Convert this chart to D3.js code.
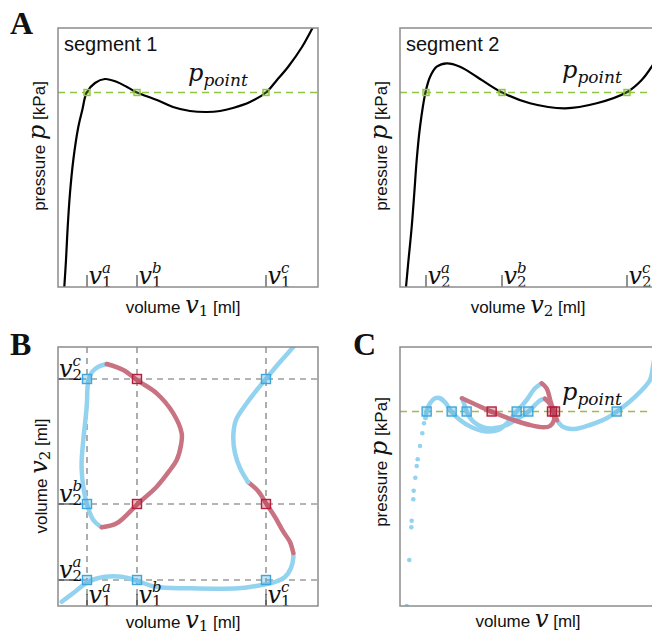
<!DOCTYPE html>
<html>
<head>
<meta charset="utf-8">
<title>segments</title>
<script src="https://d3js.org/d3.v7.min.js"></script>
<style>
  body { margin: 0; background: #fff; }
  text { font-family: "Liberation Sans", Arial, sans-serif; fill: #111; }
  .math { font-family: "DejaVu Serif", serif; font-style: italic; }
  .rm { font-family: "DejaVu Serif", serif; font-style: normal; }
  .lbl { font-family: "Liberation Serif", serif; font-weight: bold; }
</style>
</head>
<body>
<div id="fig"></div>
<script>
// values (volume / pressure in arbitrary units)
var pPoint = 194.5;
var v1Ticks = [{n: "a", v: 29}, {n: "b", v: 79}, {n: "c", v: 208}];
var v2Ticks = [{n: "a", v: 26}, {n: "b", v: 102}, {n: "c", v: 227}];

// A: pressure-volume curves of the two segments
var seg1 = [[6.3,0],[8,27],[9.7,60],[12,94],[15.3,127],[20.3,160],[24.3,177],[28.7,194.5],[37,204],[47,208],[59,205],[69,200],[79,194.5],[99,187],[115,180],[132,176],[149,175],[162,176],[175,179],[192,185],[208,194.5],[219,207],[230,220],[244,240],[255,260]];
var seg2 = [[6,0],[8.5,27],[11.7,60],[14.3,94],[16.7,127],[20,160],[25.5,194.7],[30,210],[36.7,220.3],[46.7,223.7],[60,220.3],[76.7,210.3],[101.7,194.7],[130,183.7],[165,178.7],[196.7,183.7],[226.7,194.7],[241.7,207],[251.7,220.3],[260,235]];

// B: equilibrium set in (v1, v2)
var bMainBlue1 = [[3.7,4.3],[17,14.3],[28.7,23.3],[37,27],[47,29.3],[63.7,29.3],[78.7,25.3],[97,19.3],[130.3,17.7],[180.3,17.7],[204,21],[217,24],[227,29],[233,38],[235.3,48],[235.3,53]];
var bMainRed = [[235.3,53],[232,64],[225.3,74.3],[217,89],[208.7,101.7],[200,115],[190,124]];
var bMainBlue2 = [[190,124],[182,138],[177,152.7],[175.3,169.3],[178,186],[188.7,202.7],[198,215],[207,226],[222,244],[237,261],[240,265]];
var bLoopBlue = [[43.7,78.7],[35.3,86],[28.7,102.7],[25.3,119.3],[23.7,136],[23.7,146],[25.3,166],[28.7,199.3],[30.3,225],[34,234],[40.3,239.3],[48.7,242]];
var bLoopRed = [[48.7,242],[65.3,236],[80.3,225],[98.7,212.7],[115.3,192.7],[123.7,172.7],[123,161],[118.7,146],[112,136],[98.7,119.3],[80.3,102.7],[58.7,82.7],[43.7,78.7]];
var bSquares = [["a","c",1],["a","b",1],["a","a",1],["b","a",1],["c","a",1],["c","c",1],["b","c",0],["b","b",0],["c","b",0]];

// C: total volume v = v1 + v2 against pressure
var cDots = [[13.4,0],[18.6,46],[22.6,78.7],[23.4,85.3],[26.6,106.7],[27.4,115.3],[30.6,128.3],[33.4,140],[35.4,146.7],[40,160],[44.6,172.7],[48,182.7],[51,188]];
var cMainBlue1 = [[51,188],[53.3,194.3],[60,202.7],[70,207.7],[78.7,208],[90,203.7],[103.3,194.3],[120,186],[143.3,178.7],[169.3,174.7],[196.7,176],[216.7,184.3],[233.3,194.3],[253.3,206],[270,217.7],[283.3,222.7]];
var cMainRed = [[283.3,222.7],[293.3,217.7],[301.3,204.3],[308,194.3],[314,185.7]];
var cMainBlue2 = [[314,185.7],[323.3,180],[333.3,177.7],[353.3,177.3],[380,181],[413.3,187.7],[433.3,194.3],[466.7,207.7],[500,226],[506,240],[512,256]];
var cLoopBlue = [[124,207.7],[128,202.7],[133.3,194.3],[146.7,184.3],[166.7,178.7],[187.3,177.7],[213.3,181],[236.7,187.7],[256.7,194.3],[270,201],[281.3,206],[290,207.3]];
var cLoopRed = [[290,207.3],[298.7,202.7],[306.7,194.3],[308,186],[300,180],[287.3,178.7],[260,181],[226.7,186],[183.3,194.3],[153.3,201],[124,207.7]];
var cSquares = [[53.3,1],[103.3,1],[133.3,1],[183.3,0],[233.3,1],[256.7,1],[304,0],[310,0],[433.3,1]];

var blue = "#93d3ef", red = "#c97382", blueSq = "#3ea6da", redSq = "#b3203d",
    green = "#8fc641", grey = "#6b6b6b";

var svg = d3.select("#fig").append("svg").attr("width", 652).attr("height", 635);

function panel(id, left, top, xMax) {
  var w = 260, h = 259;
  var g = svg.append("g").attr("transform", "translate(" + left + "," + top + ")");
  g.append("clipPath").attr("id", "clip-" + id).append("rect").attr("width", w).attr("height", h);
  var x = d3.scaleLinear().domain([0, xMax]).range([0, w]);
  var y = d3.scaleLinear().domain([0, 259]).range([h, 0]);
  var plot = g.append("g").attr("clip-path", "url(#clip-" + id + ")");
  return {g: g, plot: plot, x: x, y: y, w: w, h: h};
}

function frame(P) {
  P.g.append("rect").attr("width", P.w).attr("height", P.h)
    .attr("fill", "none").attr("stroke", "#8c8c8c").attr("stroke-width", 1.5);
}

function path(P, data, color, width) {
  var line = d3.line().x(d => P.x(d[0])).y(d => P.y(d[1])).curve(d3.curveCatmullRom.alpha(0.5));
  P.plot.append("path").datum(data).attr("d", line)
    .attr("fill", "none").attr("stroke", color).attr("stroke-width", width)
    .attr("stroke-linecap", "round").attr("stroke-linejoin", "round");
}

function square(P, cx, cy, s, stroke, fill) {
  P.plot.append("rect").attr("x", cx - s / 2).attr("y", cy - s / 2)
    .attr("width", s).attr("height", s)
    .attr("fill", fill).attr("fill-opacity", 0.3)
    .attr("stroke", stroke).attr("stroke-width", 1.4);
}

// v with stacked sub- and superscript
function mathSym(g, x0, y0, sub, sup) {
  var t = g.append("text").attr("class", "math").attr("x", x0).attr("y", y0)
    .style("font-size", "24px").text("v");
  var w = t.node().getComputedTextLength();
  g.append("text").attr("class", "rm").attr("x", x0 + w).attr("y", y0 + 3)
    .style("font-size", "15px").text(sub);
  g.append("text").attr("class", "math").attr("x", x0 + w).attr("y", y0 - 11)
    .style("font-size", "15px").text(sup);
}

function axisLabel(x, y, rot, before, sym, sub, after) {
  var t = svg.append("text").attr("text-anchor", "middle")
    .attr("transform", "translate(" + x + "," + y + ")" + (rot ? " rotate(-90)" : ""))
    .style("font-size", "17px");
  t.append("tspan").text(before);
  t.append("tspan").attr("class", "math").style("font-size", "24px").text(sym);
  if (sub) t.append("tspan").attr("class", "rm").attr("dy", 3).style("font-size", "15px").text(sub);
  t.append("tspan").attr("dy", sub ? -3 : 0).text(after);
}

function pLabel(g, x0, y0) {
  var t = g.append("text").attr("x", x0).attr("y", y0);
  t.append("tspan").attr("class", "math").style("font-size", "24px").text("p");
  t.append("tspan").attr("class", "math").attr("dy", 5).style("font-size", "17px").text("point");
}

function greenLine(P, color) {
  P.plot.append("line").attr("x1", 0).attr("x2", P.w)
    .attr("y1", P.y(pPoint)).attr("y2", P.y(pPoint))
    .attr("stroke", color).attr("stroke-width", 1.6).attr("stroke-dasharray", "7,5");
}

// ---- panel A, segment 1 and 2 ----
[[58, seg1, v1Ticks, "1"], [400, seg2, v2Ticks, "2"]].forEach(function (cfg) {
  var P = panel("a" + cfg[3], cfg[0], 28, 260);
  greenLine(P, green);
  path(P, cfg[1], "#000", 2.2);
  cfg[2].forEach(function (t) {
    square(P, P.x(t.v), P.y(pPoint), 6, green, green);
    P.g.append("line").attr("x1", P.x(t.v)).attr("x2", P.x(t.v))
      .attr("y1", P.h - 12).attr("y2", P.h).attr("stroke", "#222").attr("stroke-width", 1);
    mathSym(P.g, P.x(t.v) + 1.5, P.h - 3, cfg[3], t.n);
  });
  P.g.append("text").attr("x", 6).attr("y", 23).style("font-size", "20px").text("segment " + cfg[3]);
  pLabel(P.g, cfg[3] === "1" ? 130 : 162, cfg[3] === "1" ? 53 : 50);
  frame(P);
});
axisLabel(183, 313, false, "volume ", "v", "1", " [ml]");
axisLabel(528, 313, false, "volume ", "v", "2", " [ml]");
axisLabel(45, 146, true, "pressure ", "p", null, " [kPa]");
axisLabel(387, 146, true, "pressure ", "p", null, " [kPa]");

// ---- panel B ----
var B = panel("b", 58, 347, 260);
var v1Of = {}, v2Of = {};
v1Ticks.forEach(t => v1Of[t.n] = t.v);
v2Ticks.forEach(t => v2Of[t.n] = t.v);
v1Ticks.forEach(function (t) {
  B.plot.append("line").attr("x1", B.x(t.v)).attr("x2", B.x(t.v)).attr("y1", 0).attr("y2", B.h)
    .attr("stroke", grey).attr("stroke-width", 1.1).attr("stroke-dasharray", "6,5");
});
v2Ticks.forEach(function (t) {
  B.plot.append("line").attr("y1", B.y(t.v)).attr("y2", B.y(t.v)).attr("x1", 0).attr("x2", B.w)
    .attr("stroke", grey).attr("stroke-width", 1.1).attr("stroke-dasharray", "6,5");
});
path(B, bMainBlue1, blue, 4.5);
path(B, bMainRed, red, 4.5);
path(B, bMainBlue2, blue, 4.5);
path(B, bLoopBlue, blue, 4.5);
path(B, bLoopRed, red, 4.5);
bSquares.forEach(function (s) {
  square(B, B.x(v1Of[s[0]]), B.y(v2Of[s[1]]), 9, s[2] ? blueSq : redSq, s[2] ? blueSq : redSq);
});
v1Ticks.forEach(function (t) {
  B.g.append("line").attr("x1", B.x(t.v)).attr("x2", B.x(t.v))
    .attr("y1", B.h - 12).attr("y2", B.h).attr("stroke", "#222").attr("stroke-width", 1);
  mathSym(B.g, B.x(t.v) + 1.5, B.h - 3, "1", t.n);
});
v2Ticks.forEach(function (t) {
  B.g.append("line").attr("x1", 0).attr("x2", 20)
    .attr("y1", B.y(t.v)).attr("y2", B.y(t.v)).attr("stroke", "#222").attr("stroke-width", 1);
  mathSym(B.g, 1, B.y(t.v) - 2, "2", t.n);
});
frame(B);
axisLabel(183, 628, false, "volume ", "v", "1", " [ml]");
axisLabel(47, 476, true, "volume ", "v", "2", " [ml]");

// ---- panel C ----
var C = panel("c", 400, 347, 520);
greenLine(C, "#a3b94a");
C.plot.selectAll(".dot").data(cDots).enter().append("circle")
  .attr("cx", d => C.x(d[0])).attr("cy", d => C.y(d[1])).attr("r", 2.3)
  .attr("fill", blue);
path(C, cMainBlue1, blue, 4.5);
path(C, cLoopBlue, blue, 4.5);
path(C, cMainBlue2, blue, 4.5);
path(C, cLoopRed, red, 4.5);
path(C, cMainRed, red, 4.5);
cSquares.forEach(function (s) {
  square(C, C.x(s[0]), C.y(pPoint), 9, s[1] ? blueSq : redSq, s[1] ? blueSq : redSq);
});
pLabel(C.g, 162, 53);
frame(C);
axisLabel(528, 627, false, "volume ", "v", null, " [ml]");
axisLabel(387, 462, true, "pressure ", "p", null, " [kPa]");

// panel letters
[["A", 10, 34], ["B", 10, 355], ["C", 353, 355]].forEach(function (l) {
  svg.append("text").attr("class", "lbl").attr("x", l[1]).attr("y", l[2])
    .style("font-size", "32px").text(l[0]);
});
</script>
</body>
</html>
